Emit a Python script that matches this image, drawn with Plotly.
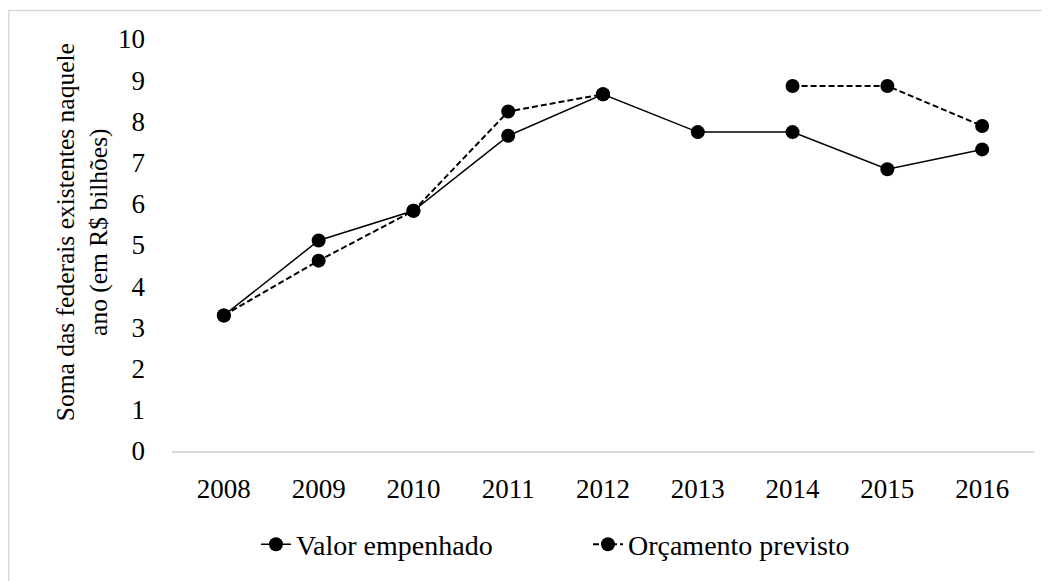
import plotly.graph_objects as go

years = ["2008", "2009", "2010", "2011", "2012", "2013", "2014", "2015", "2016"]
valor_empenhado = [3.29, 5.11, 5.83, 7.65, 8.66, 7.74, 7.74, 6.84, 7.32]
orcamento_previsto = [3.29, 4.62, 5.83, 8.24, 8.66, None, 8.86, 8.86, 7.89]
y_ticks = list(range(0, 11))

FONT = "Liberation Serif, Times New Roman, serif"

fig = go.Figure()
fig.add_trace(go.Scatter(
    x=years, y=valor_empenhado, name="Valor empenhado", mode="lines+markers",
    line=dict(color="black", width=1.5),
    marker=dict(color="black", size=14, symbol="circle"),
))
fig.add_trace(go.Scatter(
    x=years, y=orcamento_previsto, name="Orçamento previsto", mode="lines+markers",
    line=dict(color="black", width=2, dash="6px,3px"),
    marker=dict(color="black", size=14, symbol="circle"),
    connectgaps=False,
))

fig.update_layout(
    width=1042, height=573,
    margin=dict(l=164, r=16, t=31, b=124),
    paper_bgcolor="white", plot_bgcolor="white",
    font=dict(family=FONT, color="black", size=27),
    showlegend=True,
    legend=dict(orientation="h", x=0.0974, xanchor="left", y=-0.227, yanchor="middle",
                font=dict(family=FONT, size=28), traceorder="normal",
                entrywidth=287, entrywidthmode="pixels"),
    xaxis=dict(showgrid=False, showline=True, linecolor="#d9d9d9", linewidth=1.5,
               ticks="", tickfont=dict(family=FONT, size=27), ticklabelstandoff=13,
               zeroline=False),
    yaxis=dict(range=[0, 10], tickvals=y_ticks, showgrid=False, showline=False,
               ticks="", zeroline=False, tickfont=dict(family=FONT, size=27),
               ticklabelstandoff=26),
    annotations=[dict(
        text="Soma das federais existentes naquele<br>ano (em R$ bilhões)",
        xref="paper", yref="paper", x=-0.1044, y=0.531, xanchor="center", yanchor="middle",
        textangle=-90, showarrow=False, font=dict(family=FONT, size=25.5), align="center",
    )],
    shapes=[dict(type="rect", xref="paper", yref="paper", x0=-0.1894, x1=1.2,
                 y0=-0.5, y1=1.0694, line=dict(color="#d9d9d9", width=1.5), layer="below")],
)

fig.write_html("out.html")
